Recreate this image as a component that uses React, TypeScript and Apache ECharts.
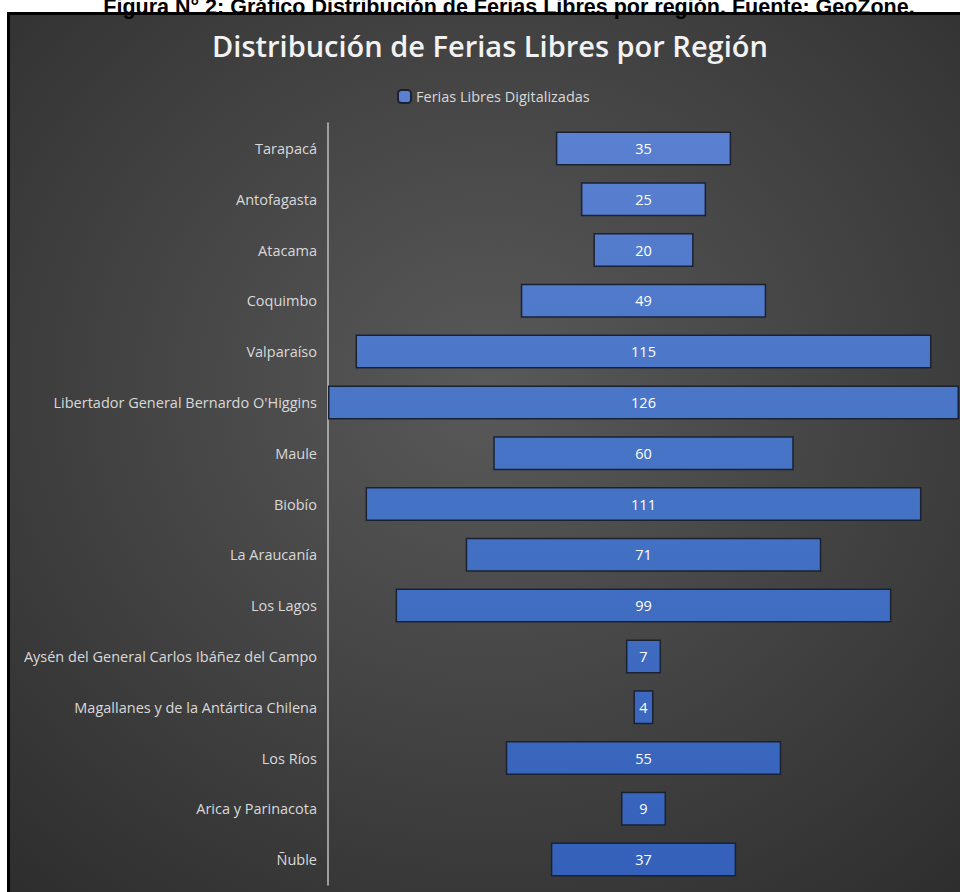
import React, { useEffect, useRef } from "react";
import * as echarts from "echarts";

const categories = [
  "Tarapacá",
  "Antofagasta",
  "Atacama",
  "Coquimbo",
  "Valparaíso",
  "Libertador General Bernardo O'Higgins",
  "Maule",
  "Biobío",
  "La Araucanía",
  "Los Lagos",
  "Aysén del General Carlos Ibáñez del Campo",
  "Magallanes y de la Antártica Chilena",
  "Los Ríos",
  "Arica y Parinacota",
  "Ñuble",
];
const values = [35, 25, 20, 49, 115, 126, 60, 111, 71, 99, 7, 4, 55, 9, 37];
const seriesName = "Ferias Libres Digitalizadas";
const chartTitle = "Distribución de Ferias Libres por Región";
const caption = "Figura N° 2: Gráfico Distribución de Ferias Libres por región. Fuente: GeoZone.";

export default function App() {
  const ref = useRef<HTMLDivElement>(null);
  useEffect(() => {
    document.body.style.margin = "0";
    const chart = echarts.init(ref.current!, null, { renderer: "svg" });
    const maxV = Math.max(...values);
    const offsets = values.map((v) => (maxV - v) / 2);
    const font = "'Open Sans', Lato, sans-serif";
    chart.setOption({
      animation: false,
      backgroundColor: "#ffffff",
      graphic: {
        elements: [
          {
            type: "rect",
            z: -20,
            silent: true,
            shape: { x: 7, y: 12, width: 960, height: 890 },
            style: { fill: "#000000" },
          },
          {
            type: "rect",
            z: -19,
            silent: true,
            shape: { x: 10, y: 15, width: 960, height: 890 },
            style: {
              fill: {
                type: "radial",
                x: 0.5,
                y: 0.42,
                r: 0.78,
                colorStops: [
                  { offset: 0, color: "#595959" },
                  { offset: 1, color: "#2c2c2c" },
                ],
              },
            },
          },
          {
            type: "text",
            z: 10,
            x: 509,
            y: -4,
            style: {
              text: caption,
              textAlign: "center",
              textVerticalAlign: "top",
              font: "bold 21.5px 'Liberation Sans', Arial, sans-serif",
              fill: "#000000",
            },
          },
          {
            type: "text",
            z: 10,
            x: 490,
            y: 45,
            style: {
              text: chartTitle,
              textAlign: "center",
              textVerticalAlign: "middle",
              font: `600 29px ${font}`,
              fill: "#f2f2f2",
            },
          },
        ],
      },
      legend: {
        data: [seriesName],
        left: 392,
        top: 84,
        itemWidth: 13,
        itemHeight: 13,
        itemGap: 6,
        textStyle: { color: "#d9d9d9", fontSize: 14.5, fontFamily: font },
      },
      grid: { left: 328, right: 1, top: 123, bottom: 7, containLabel: false },
      xAxis: {
        type: "value",
        min: 0,
        max: maxV,
        show: false,
      },
      yAxis: {
        type: "category",
        data: categories,
        inverse: true,
        axisLine: { show: true, lineStyle: { color: "#bfbfbf", width: 1.5 } },
        axisTick: { show: false },
        axisLabel: { color: "#d9d9d9", fontSize: 14.5, fontFamily: font, margin: 11 },
      },
      series: [
        {
          name: "offset",
          type: "bar",
          stack: "funnel",
          data: offsets,
          itemStyle: { color: "rgba(0,0,0,0)" },
          silent: true,
          barCategoryGap: "33%",
        },
        {
          name: seriesName,
          type: "bar",
          stack: "funnel",
          data: values,
          barCategoryGap: "33%",
          itemStyle: {
            color: {
              type: "linear",
              global: true,
              x: 0,
              y: 123,
              x2: 0,
              y2: 885,
              colorStops: [
                { offset: 0, color: "#5b80d1" },
                { offset: 0.5, color: "#4472c4" },
                { offset: 1, color: "#3460ba" },
              ],
            },
            borderColor: "#1a2232",
            borderWidth: 1.5,
          },
          label: {
            show: true,
            position: "inside",
            color: "#ffffff",
            fontSize: 14.5,
            fontFamily: font,
          },
        },
      ],
    });
    return () => chart.dispose();
  }, []);
  return <div ref={ref} style={{ width: 960, height: 892 }} />;
}
